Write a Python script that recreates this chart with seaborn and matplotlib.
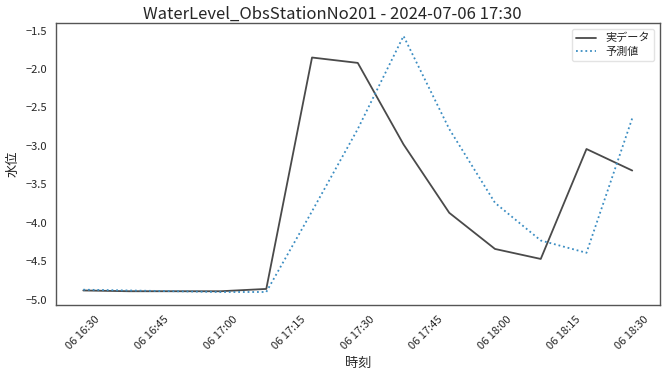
import pandas as pd
import numpy as np
import matplotlib
matplotlib.use("Agg")
import matplotlib.pyplot as plt
import matplotlib.dates as mdates
import seaborn as sns

# Observation times (10 minute steps)
times = pd.date_range("2024-07-06 16:30", "2024-07-06 18:30", freq="10min")

# Water level values
actual = [-4.88, -4.89, -4.89, -4.89, -4.86, -1.85, -1.92, -2.98, -3.87, -4.34, -4.47, -3.04, -3.32]
predicted = [-4.87, -4.88, -4.89, -4.90, -4.90, -3.85, -2.78, -1.57, -2.78, -3.74, -4.23, -4.39, -2.64]

title = "WaterLevel_ObsStationNo201 - 2024-07-06 17:30"

df = pd.DataFrame({"time": times, "実データ": actual, "予測値": predicted})
long_df = df.melt(id_vars="time", var_name="series", value_name="level")

sns.set_style("white")
plt.rcParams["font.family"] = ["Noto Sans CJK JP", "DejaVu Sans"]
plt.rcParams["axes.unicode_minus"] = True

fig, ax = plt.subplots(figsize=(6.65, 3.74), dpi=100)
sns.lineplot(
    data=long_df, x="time", y="level", hue="series", style="series",
    palette={"実データ": "#4a4a4a", "予測値": "#3b8dc2"},
    dashes={"実データ": "", "予測値": (1, 1.6)},
    linewidth=1.3, ax=ax,
)

# title is centred on the figure, not the axes
fig.suptitle(title, fontsize=12, x=0.5, y=0.985, va="top")
ax.set_xlabel("時刻", fontsize=9.5)
ax.set_ylabel("水位", fontsize=9.5)
ax.xaxis.set_major_locator(mdates.MinuteLocator(byminute=[0, 15, 30, 45]))
ax.xaxis.set_major_formatter(mdates.DateFormatter("%d %H:%M"))
ax.tick_params(axis="both", labelsize=8, length=3, color="#444444")
plt.setp(ax.get_xticklabels(), rotation=45)
for s in ax.spines.values():
    s.set_color("#555555")
    s.set_linewidth(1.0)

leg = ax.legend(loc="upper right", fontsize=8, frameon=True, handlelength=1.8,
                labelspacing=0.3, borderpad=0.4)
leg.get_frame().set_edgecolor("#dddddd")

fig.subplots_adjust(left=0.084, right=0.992, top=0.938, bottom=0.185)
fig.savefig("out.png", dpi=100)
